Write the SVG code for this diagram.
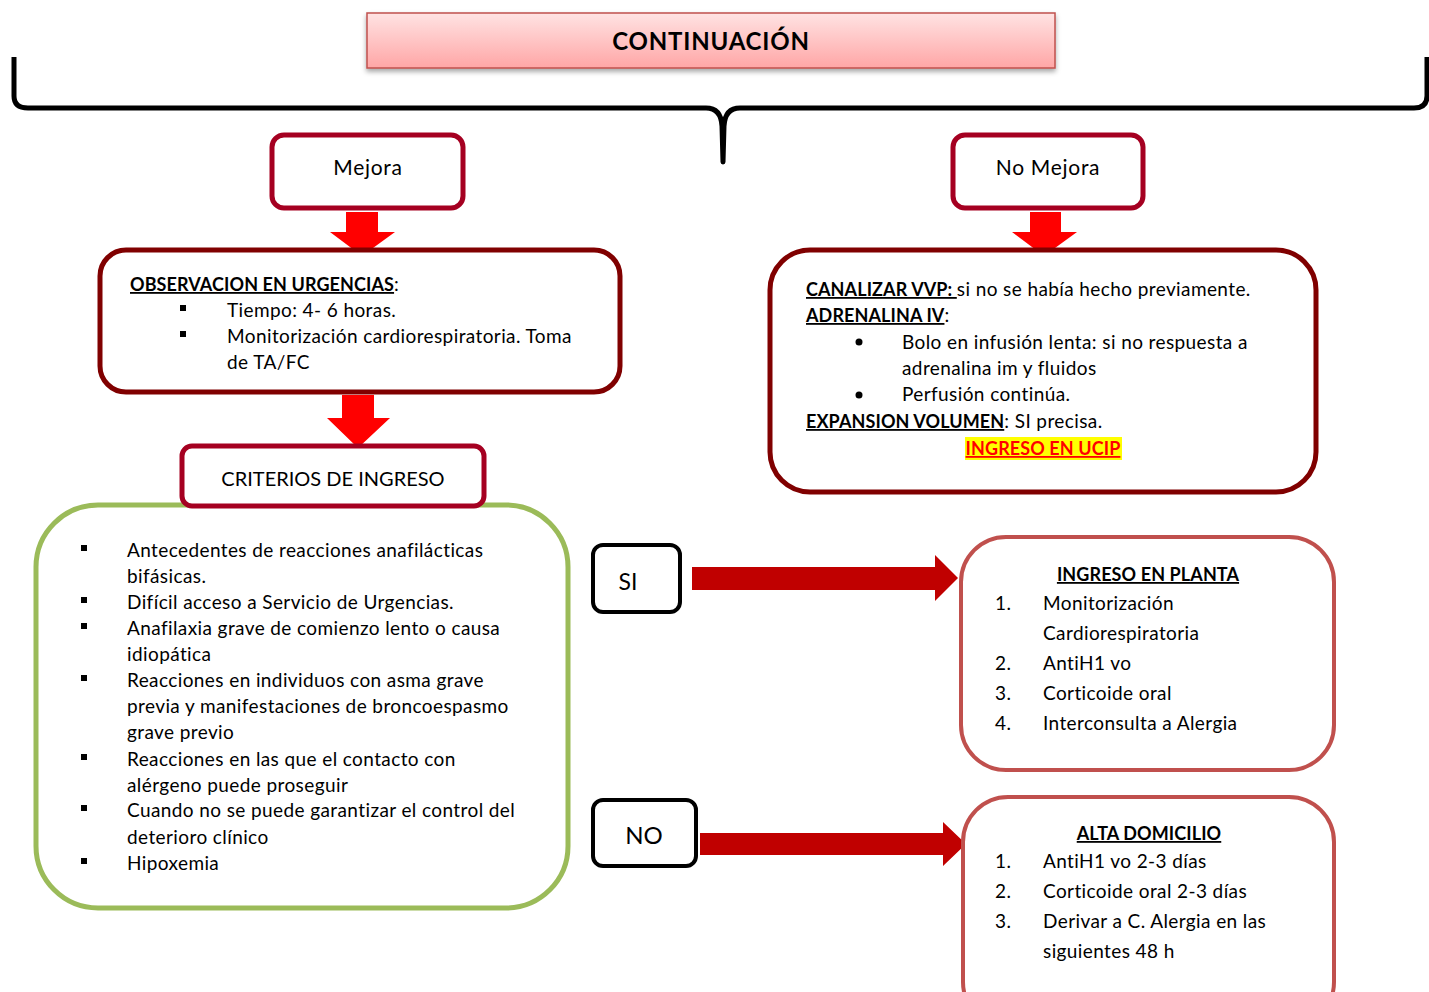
<svg xmlns="http://www.w3.org/2000/svg" width="1429" height="992" viewBox="0 0 1429 992">
<defs>
  <linearGradient id="titleGrad" x1="0" y1="0" x2="0" y2="1">
    <stop offset="0" stop-color="#ffe3e3"/>
    <stop offset="1" stop-color="#ffa6a6"/>
  </linearGradient>
  <filter id="shadow" x="-5%" y="-20%" width="110%" height="150%">
    <feDropShadow dx="0" dy="3" stdDeviation="2.5" flood-color="#000" flood-opacity="0.35"/>
  </filter>
</defs>
<style>
  text { font-family: Lato, "Open Sans", "Liberation Sans", sans-serif; fill: #000; }
  .t18 { font-size: 19px; letter-spacing: 0.4px; }
  .t20 { font-size: 21px; letter-spacing: 0.7px; }
  .b { font-weight: bold; font-size: 18px; letter-spacing: 0.1px; }
  .u { text-decoration: underline; }
  .crim { fill: #fff; stroke: #a50021; stroke-width: 5; }
  .dred { fill: #fff; stroke: #800000; stroke-width: 5; }
  .soft { fill: #fff; stroke: #c0504d; stroke-width: 4; }
  .blk { fill: #fff; stroke: #000; stroke-width: 4; }
  .green { fill: #fff; stroke: #9bbb59; stroke-width: 5; }
  .downArrow { fill: #ff0000; }
  .rightArrow { fill: #c00000; }
</style>

<g id="title">
  <rect x="367" y="13" width="688" height="55" fill="url(#titleGrad)" stroke="#c0504d" stroke-width="1.5" filter="url(#shadow)"/>
  <text x="711" y="50" text-anchor="middle" font-weight="bold" font-size="24" letter-spacing="0.8">CONTINUACIÓN</text>
</g>

<g id="connectors">
  <path id="brace" d="M 14 57 L 14 96 Q 14 108 28 108 L 706 108 Q 721 108 722 126 L 723 162 L 724 126 Q 725 108 740 108 L 1414 108 Q 1427 108 1427 96 L 1427 57" fill="none" stroke="#000" stroke-width="5" stroke-linejoin="round"/>
  <polygon class="downArrow" points="346,212 378,212 378,232 395,232 362,256 330,232 346,232"/>
  <polygon class="downArrow" points="1030,212 1061,212 1061,232 1077,232 1044,256 1012,232 1030,232"/>
  <polygon class="downArrow" points="342,395 374,395 374,418 390,418 358,448 327,418 342,418"/>
  <polygon class="rightArrow" points="692,567 935,567 935,555 958,578 935,601 935,590 692,590"/>
  <polygon class="rightArrow" points="700,833 943,833 943,822 966,844 943,866 943,855 700,855"/>
</g>

<g id="mejora">
  <rect x="272" y="135" width="191" height="73" rx="12" class="crim"/>
  <text x="368" y="175" text-anchor="middle" class="t20">Mejora</text>
</g>

<g id="no-mejora">
  <rect x="953" y="135" width="190" height="73" rx="12" class="crim"/>
  <text x="1048" y="175" text-anchor="middle" class="t20">No Mejora</text>
</g>

<g id="observacion">
  <rect x="100" y="250" width="520" height="142" rx="26" class="dred"/>
  <text x="130" y="291" class="t18"><tspan class="b u">OBSERVACION EN URGENCIAS</tspan>:</text>
  <rect x="180" y="305" width="6" height="6"/>
  <text x="227" y="317" class="t18">Tiempo: 4- 6 horas.</text>
  <rect x="180" y="331" width="6" height="6"/>
  <text x="227" y="343" class="t18">Monitorización cardiorespiratoria. Toma</text>
  <text x="227" y="369" class="t18">de TA/FC</text>
</g>

<g id="tratamiento">
  <rect x="770" y="250" width="546" height="242" rx="40" class="dred"/>
  <text x="806" y="296" class="t18"><tspan class="b u">CANALIZAR VVP: </tspan>si no se había hecho previamente.</text>
  <text x="806" y="322" class="t18"><tspan class="b u">ADRENALINA IV</tspan>:</text>
  <circle cx="859" cy="342" r="3.5"/>
  <text x="902" y="349" class="t18">Bolo en infusión lenta: si no respuesta a</text>
  <text x="902" y="375" class="t18">adrenalina im y fluidos</text>
  <circle cx="859" cy="395" r="3.5"/>
  <text x="902" y="401" class="t18">Perfusión continúa.</text>
  <text x="806" y="428" class="t18"><tspan class="b u">EXPANSION VOLUMEN</tspan>: SI precisa.</text>
  <rect x="965" y="437" width="157" height="23" fill="#ffff00"/>
  <text x="1043" y="455" text-anchor="middle" class="t18 b u" style="fill:#ff0000">INGRESO EN UCIP</text>
</g>

<g id="criterios-box">
  <rect x="36" y="505" width="532" height="403" rx="62" class="green"/>
  <rect x="81" y="545" width="6" height="6"/>
  <text x="127" y="557" class="t18">Antecedentes de reacciones anafilácticas</text>
  <text x="127" y="583" class="t18">bifásicas.</text>
  <rect x="81" y="597" width="6" height="6"/>
  <text x="127" y="609" class="t18">Difícil acceso a Servicio de Urgencias.</text>
  <rect x="81" y="623" width="6" height="6"/>
  <text x="127" y="635" class="t18">Anafilaxia grave de comienzo lento o causa</text>
  <text x="127" y="661" class="t18">idiopática</text>
  <rect x="81" y="675" width="6" height="6"/>
  <text x="127" y="687" class="t18">Reacciones en individuos con asma grave</text>
  <text x="127" y="713" class="t18">previa y manifestaciones de broncoespasmo</text>
  <text x="127" y="739" class="t18">grave previo</text>
  <rect x="81" y="754" width="6" height="6"/>
  <text x="127" y="766" class="t18">Reacciones en las que el contacto con</text>
  <text x="127" y="792" class="t18">alérgeno puede proseguir</text>
  <rect x="81" y="805" width="6" height="6"/>
  <text x="127" y="817" class="t18">Cuando no se puede garantizar el control del</text>
  <text x="127" y="844" class="t18">deterioro clínico</text>
  <rect x="81" y="858" width="6" height="6"/>
  <text x="127" y="870" class="t18">Hipoxemia</text>
</g>

<g id="criterios-ingreso">
  <rect x="182" y="446" width="302" height="60" rx="10" class="crim"/>
  <text x="333" y="486" text-anchor="middle" font-size="20">CRITERIOS DE INGRESO</text>
</g>

<g id="si">
  <rect x="593" y="545" width="87" height="67" rx="10" class="blk"/>
  <text x="628" y="590" text-anchor="middle" font-size="23">SI</text>
</g>

<g id="no">
  <rect x="593" y="800" width="103" height="66" rx="10" class="blk"/>
  <text x="644" y="844" text-anchor="middle" font-size="24">NO</text>
</g>

<g id="ingreso-planta">
  <rect x="961" y="537" width="373" height="233" rx="45" class="soft"/>
  <text x="1148" y="581" text-anchor="middle" class="t18 b u">INGRESO EN PLANTA</text>
  <text x="995" y="610" class="t18">1.</text>
  <text x="1043" y="610" class="t18">Monitorización</text>
  <text x="1043" y="640" class="t18">Cardiorespiratoria</text>
  <text x="995" y="670" class="t18">2.</text>
  <text x="1043" y="670" class="t18">AntiH1 vo</text>
  <text x="995" y="700" class="t18">3.</text>
  <text x="1043" y="700" class="t18">Corticoide oral</text>
  <text x="995" y="730" class="t18">4.</text>
  <text x="1043" y="730" class="t18">Interconsulta a Alergia</text>
</g>

<g id="alta-domicilio">
  <rect x="963" y="797" width="371" height="230" rx="45" class="soft"/>
  <text x="1149" y="840" text-anchor="middle" class="t18 b u">ALTA DOMICILIO</text>
  <text x="995" y="868" class="t18">1.</text>
  <text x="1043" y="868" class="t18">AntiH1 vo 2-3 días</text>
  <text x="995" y="898" class="t18">2.</text>
  <text x="1043" y="898" class="t18">Corticoide oral 2-3 días</text>
  <text x="995" y="928" class="t18">3.</text>
  <text x="1043" y="928" class="t18">Derivar a C. Alergia en las</text>
  <text x="1043" y="958" class="t18">siguientes 48 h</text>
</g>
</svg>
